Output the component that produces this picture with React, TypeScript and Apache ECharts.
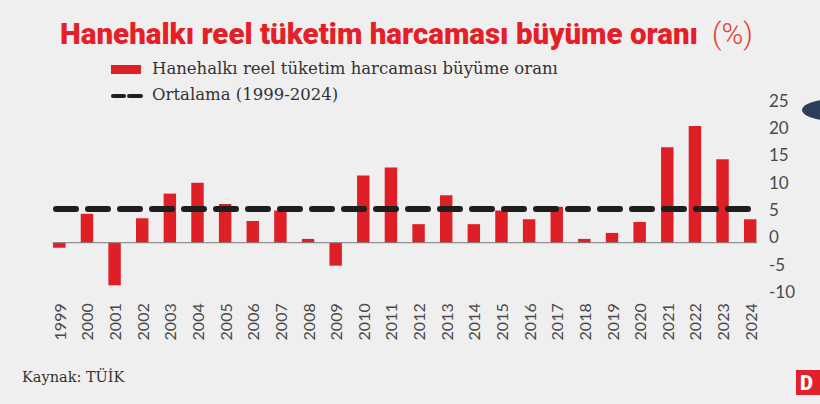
import React, { useEffect, useRef } from "react";
import * as echarts from "echarts";

const years = [
  "1999", "2000", "2001", "2002", "2003", "2004", "2005", "2006", "2007",
  "2008", "2009", "2010", "2011", "2012", "2013", "2014", "2015", "2016",
  "2017", "2018", "2019", "2020", "2021", "2022", "2023", "2024",
];
const growth = [
  -0.9, 5.3, -7.8, 4.5, 9.0, 11.0, 7.1, 4.0, 5.9, 0.7, -4.2, 12.3, 13.8, 3.4,
  8.7, 3.4, 5.9, 4.3, 6.6, 0.7, 1.8, 3.8, 17.5, 21.4, 15.3, 4.3,
];
const average = 6.2;
const yTicks = [-10, -5, 0, 5, 10, 15, 20, 25];

const titleText = "Hanehalkı reel tüketim harcaması büyüme oranı";
const titleUnit = "(%)";
const legendBar = "Hanehalkı reel tüketim harcaması büyüme oranı";
const legendAvg = "Ortalama (1999-2024)";
const sourceText = "Kaynak: TÜİK";

const RED = "#df1f26";

export default function App() {
  const ref = useRef<HTMLDivElement>(null);
  useEffect(() => {
    if (!ref.current) return;
    const chart = echarts.init(ref.current, undefined, { renderer: "svg" });
    const n = years.length;
    chart.setOption({
      animation: false,
      backgroundColor: "#efefef",
      grid: { left: 45.5, right: 56, top: 106.3, bottom: 106.7 },
      xAxis: [
        {
          type: "category",
          data: years,
          axisLine: { show: false, onZero: false },
          axisTick: { show: false },
          axisLabel: {
            rotate: 90,
            margin: 6,
            color: "#4a4a4a",
            fontSize: 16,
            fontFamily: "Lato, 'Open Sans', sans-serif",
            interval: 0,
          },
        },
        {
          type: "value",
          min: -0.5,
          max: n - 0.5,
          show: false,
        },
      ],
      yAxis: {
        type: "value",
        position: "right",
        min: yTicks[0],
        max: yTicks[yTicks.length - 1],
        interval: 5,
        splitLine: { show: false },
        axisLine: { show: false },
        axisTick: { show: false },
        axisLabel: {
          margin: 5,
          color: "#4a4a4a",
          fontSize: 17,
          fontFamily: "Lato, 'Open Sans', sans-serif",
          verticalAlign: "bottom",
          lineHeight: 12,
        },
      },
      series: [
        {
          type: "bar",
          data: growth,
          barWidth: "45%",
          itemStyle: { color: RED },
          z: 2,
        },
        {
          type: "line",
          xAxisIndex: 1,
          data: [
            [-0.25, 0],
            [n - 1 + 0.25, 0],
          ],
          symbol: "none",
          lineStyle: { color: "#7a7a7a", width: 1 },
          z: 3,
        },
        {
          type: "line",
          xAxisIndex: 1,
          data: [
            [-0.12, average],
            [n - 1 + 0.12, average],
          ],
          symbol: "none",
          lineStyle: {
            color: "#1e1e1e",
            width: 6,
            type: [20, 12],
            cap: "round",
          },
          z: 4,
        },
      ],
      graphic: [
        {
          type: "text",
          left: 60,
          top: 19,
          style: {
            text: titleText,
            font: "900 29.5px Roboto, sans-serif",
            fill: "#e51f28",
          },
        },
        {
          type: "text",
          left: 712,
          top: 19,
          style: {
            text: titleUnit,
            font: "300 29.5px Roboto, sans-serif",
            fill: "#e8402f",
          },
        },
        {
          type: "rect",
          shape: { x: 111, y: 65, width: 30, height: 9 },
          style: { fill: RED },
        },
        {
          type: "text",
          left: 152,
          top: 60,
          style: {
            text: legendBar,
            font: "16.5px 'DejaVu Serif', serif",
            fill: "#333333",
          },
        },
        {
          type: "line",
          shape: { x1: 113, y1: 96, x2: 124, y2: 96 },
          style: { stroke: "#1e1e1e", lineWidth: 4, lineCap: "round" },
        },
        {
          type: "line",
          shape: { x1: 129, y1: 96, x2: 141, y2: 96 },
          style: { stroke: "#1e1e1e", lineWidth: 4, lineCap: "round" },
        },
        {
          type: "text",
          left: 152,
          top: 86,
          style: {
            text: legendAvg,
            font: "16.5px 'DejaVu Serif', serif",
            fill: "#333333",
          },
        },
        {
          type: "text",
          left: 22,
          top: 369,
          style: {
            text: sourceText,
            font: "14.5px 'DejaVu Serif', serif",
            fill: "#333333",
          },
        },
        {
          type: "ellipse",
          shape: { cx: 836, cy: 110, rx: 34, ry: 11 },
          style: { fill: "#2d3e58" },
        },
        {
          type: "rect",
          shape: { x: 796, y: 370, width: 24, height: 25 },
          style: { fill: "#e3202a" },
        },
        {
          type: "text",
          left: 800,
          top: 373,
          style: {
            text: "D",
            font: "900 20px Roboto, sans-serif",
            fill: "#ffffff",
          },
        },
      ],
    });
    return () => chart.dispose();
  }, []);
  return (
    <div
      ref={ref}
      style={{ position: "absolute", left: 0, top: 0, width: 820, height: 404 }}
    />
  );
}
